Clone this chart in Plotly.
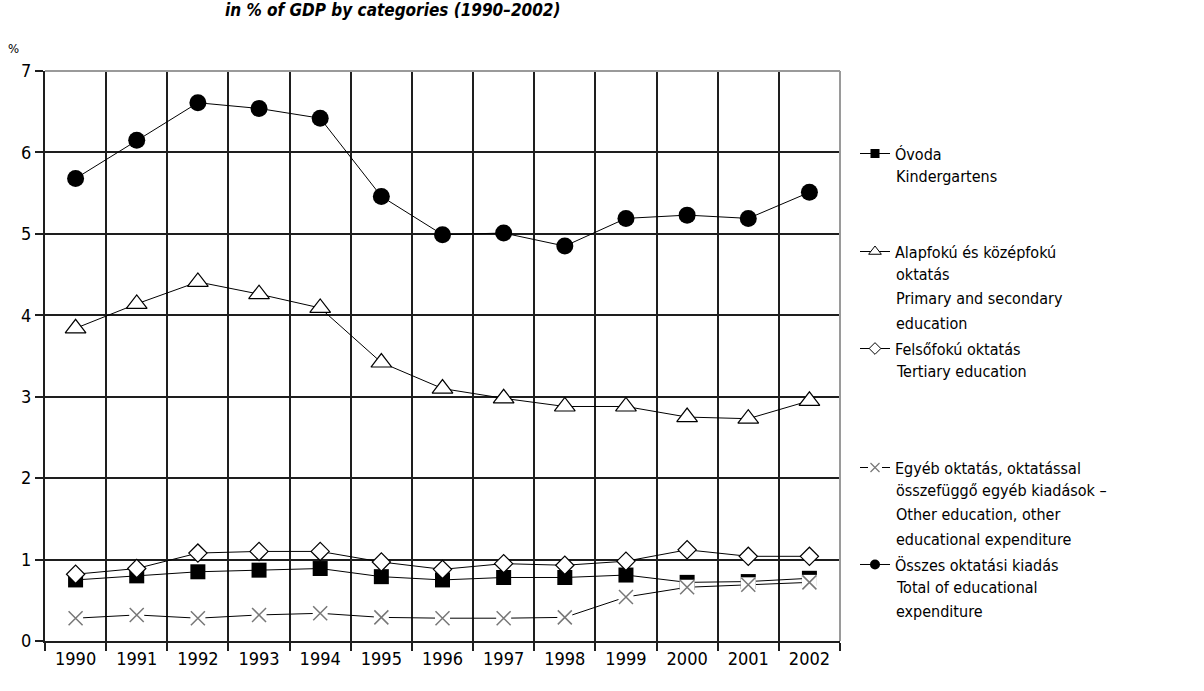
import plotly.graph_objects as go

# ---------------- data ----------------
years = ["1990", "1991", "1992", "1993", "1994", "1995", "1996",
         "1997", "1998", "1999", "2000", "2001", "2002"]
kindergartens = [0.75, 0.80, 0.85, 0.87, 0.89, 0.79, 0.75, 0.78, 0.78, 0.81, 0.72, 0.73, 0.77]
primary_secondary = [3.84, 4.14, 4.41, 4.26, 4.09, 3.42, 3.10, 2.98, 2.88, 2.88, 2.75, 2.73, 2.95]
tertiary = [0.82, 0.89, 1.08, 1.10, 1.10, 0.97, 0.88, 0.95, 0.93, 0.98, 1.12, 1.04, 1.04]
other_education = [0.28, 0.32, 0.28, 0.32, 0.34, 0.29, 0.28, 0.28, 0.29, 0.54, 0.66, 0.69, 0.72]
total_expenditure = [5.68, 6.15, 6.61, 6.54, 6.42, 5.46, 4.99, 5.01, 4.85, 5.19, 5.23, 5.19, 5.51]
y_ticks = [0, 1, 2, 3, 4, 5, 6, 7]

legend_texts = [
    ["Óvoda", "Kindergartens"],
    ["Alapfokú és középfokú", "oktatás", "Primary and secondary", "education"],
    ["Felsőfokú oktatás", "Tertiary education"],
    ["Egyéb oktatás, oktatással", "összefüggő egyéb kiadások –",
     "Other education, other", "educational expenditure"],
    ["Összes oktatási kiadás", "Total of educational", "expenditure"],
]
title_text = "in % of GDP by categories (1990–2002)"

# ---------------- layout geometry (pixels) ----------------
W, H = 1204, 691
PL, PR, PT, PB = 45, 840, 71, 641
FONT = "DejaVu Sans Condensed, Liberation Sans Narrow, Arial Narrow, sans-serif"


def px(xp):
    return (xp - PL) / (PR - PL)


def py(yp):
    return (PB - yp) / (PB - PT)


LINE = dict(color="black", width=1)

fig = go.Figure()

# ----- data traces (legend entries drawn by small proxy traces below) -----
fig.add_trace(go.Scatter(
    x=years, y=kindergartens, name=legend_texts[0][0], showlegend=False,
    mode="lines+markers", line=LINE,
    marker=dict(symbol="square", size=15, color="black", line=dict(width=0))))
fig.add_trace(go.Scatter(
    x=years, y=primary_secondary, name=legend_texts[1][0], showlegend=False,
    mode="lines+markers", line=LINE,
    marker=dict(symbol="triangle-up", size=18, color="white", line=dict(color="black", width=1.2))))
fig.add_trace(go.Scatter(
    x=years, y=tertiary, name=legend_texts[2][0], showlegend=False,
    mode="lines+markers", line=LINE,
    marker=dict(symbol="diamond", size=14, color="white", line=dict(color="black", width=1.2))))
# other education: line with white marker background (gaps), then grey X on top
fig.add_trace(go.Scatter(
    x=years, y=other_education, name=legend_texts[3][0], showlegend=False,
    mode="lines+markers", line=LINE,
    marker=dict(symbol="square", size=15, color="white", line=dict(width=0))))
fig.add_trace(go.Scatter(
    x=years, y=other_education, name=legend_texts[3][0], showlegend=False,
    mode="markers",
    marker=dict(symbol="x-thin", size=14, color="#777777", line=dict(color="#777777", width=1.5))))
fig.add_trace(go.Scatter(
    x=years, y=total_expenditure, name=legend_texts[4][0], showlegend=False,
    mode="lines+markers", line=LINE,
    marker=dict(symbol="circle", size=17, color="black", line=dict(width=0))))

# ----- legend proxies (no data drawn) -----
proxy_specs = [
    ("legend", legend_texts[0][0], "lines+markers", dict(symbol="square", size=9, color="black", line=dict(width=0))),
    ("legend2", legend_texts[1][0], "lines+markers", dict(symbol="triangle-up", size=11, color="white", line=dict(color="black", width=1))),
    ("legend3", legend_texts[2][0], "lines+markers", dict(symbol="diamond", size=9, color="white", line=dict(color="black", width=1))),
    ("legend4", legend_texts[3][0], "lines+markers", dict(symbol="square", size=14, color="white", line=dict(width=0))),
    ("legend6", legend_texts[3][0], "markers", dict(symbol="x-thin", size=9, color="#777777", line=dict(color="#777777", width=1.2))),
    ("legend5", legend_texts[4][0], "lines+markers", dict(symbol="circle", size=10, color="black", line=dict(width=0))),
]
for lg, nm, md, mk in proxy_specs:
    fig.add_trace(go.Scatter(
        x=[years[0]], y=[None], name=nm, legend=lg, mode=md, line=LINE,
        marker=mk, hoverinfo="skip"))

# legend positions: symbol centre x, first-line centre y (pixels)
SYM_X = 875
LINE_GAP = 24.4
first_line_y = [152, 250, 347, 466, 563]
legend_names = ["legend", "legend2", "legend3", "legend4", "legend5"]

layout_legends = {}
for name, y0 in zip(legend_names, first_line_y):
    layout_legends[name] = dict(
        x=px(SYM_X - 20), y=py(y0 - 15.4), xanchor="left", yanchor="top",
        bgcolor="rgba(0,0,0,0)", borderwidth=0,
        font=dict(family=FONT, size=16, color="black"))
layout_legends["legend6"] = dict(
    x=px(SYM_X - 20), y=py(first_line_y[3] - 15.4), xanchor="left", yanchor="top",
    bgcolor="rgba(0,0,0,0)", borderwidth=0,
    font=dict(family=FONT, size=16, color="rgba(0,0,0,0)"))

annotations = []
for lines, y0 in zip(legend_texts, first_line_y):
    for i, t in enumerate(lines[1:], start=1):
        annotations.append(dict(
            x=px(SYM_X + 20), y=py(y0 + i * LINE_GAP), xref="paper", yref="paper",
            xanchor="left", yanchor="middle", text=t, showarrow=False,
            font=dict(family=FONT, size=16, color="black"), borderpad=0))

annotations.append(dict(
    x=px(13), y=py(48), xref="paper", yref="paper", xanchor="center", yanchor="middle",
    text="%", showarrow=False, font=dict(family=FONT, size=13, color="black")))
annotations.append(dict(
    x=px(392), y=py(21), xref="paper", yref="paper", xanchor="center", yanchor="bottom",
    text="<b><i>" + title_text + "</i></b>", showarrow=False,
    font=dict(family=FONT, size=17, color="black"), borderpad=0))

shapes = [
    dict(type="line", xref="paper", yref="paper", x0=0, x1=1, y0=1, y1=1,
         line=dict(color="#9a9a9a", width=2)),
    dict(type="line", xref="paper", yref="paper", x0=1, x1=1, y0=0, y1=1,
         line=dict(color="#9a9a9a", width=2)),
]

fig.update_layout(
    width=W, height=H,
    margin=dict(l=PL, r=W - PR, t=PT, b=H - PB, pad=0),
    paper_bgcolor="white", plot_bgcolor="white",
    showlegend=True,
    annotations=annotations, shapes=shapes,
    font=dict(family=FONT, size=16, color="black"),
    **layout_legends,
)

fig.update_xaxes(
    type="category", categoryorder="array", categoryarray=years,
    range=[-0.5, len(years) - 0.5],
    tickson="boundaries", showgrid=True, gridcolor="#1e1e1e", gridwidth=2,
    ticks="outside", ticklen=8, tickwidth=2, tickcolor="#1e1e1e",
    showline=True, linecolor="#1e1e1e", linewidth=2,
    tickfont=dict(family=FONT, size=18, color="black"), zeroline=False,
)
fig.update_yaxes(
    range=[0, 7], tickmode="array", tickvals=y_ticks,
    showgrid=True, gridcolor="#1e1e1e", gridwidth=2,
    ticks="outside", ticklen=8, tickwidth=2, tickcolor="#1e1e1e",
    showline=True, linecolor="#1e1e1e", linewidth=2, zeroline=False,
    tickfont=dict(family=FONT, size=18, color="black"),
)

fig.write_html("out.html", config={"displayModeBar": False},
               post_script="document.body.style.margin='0';")
